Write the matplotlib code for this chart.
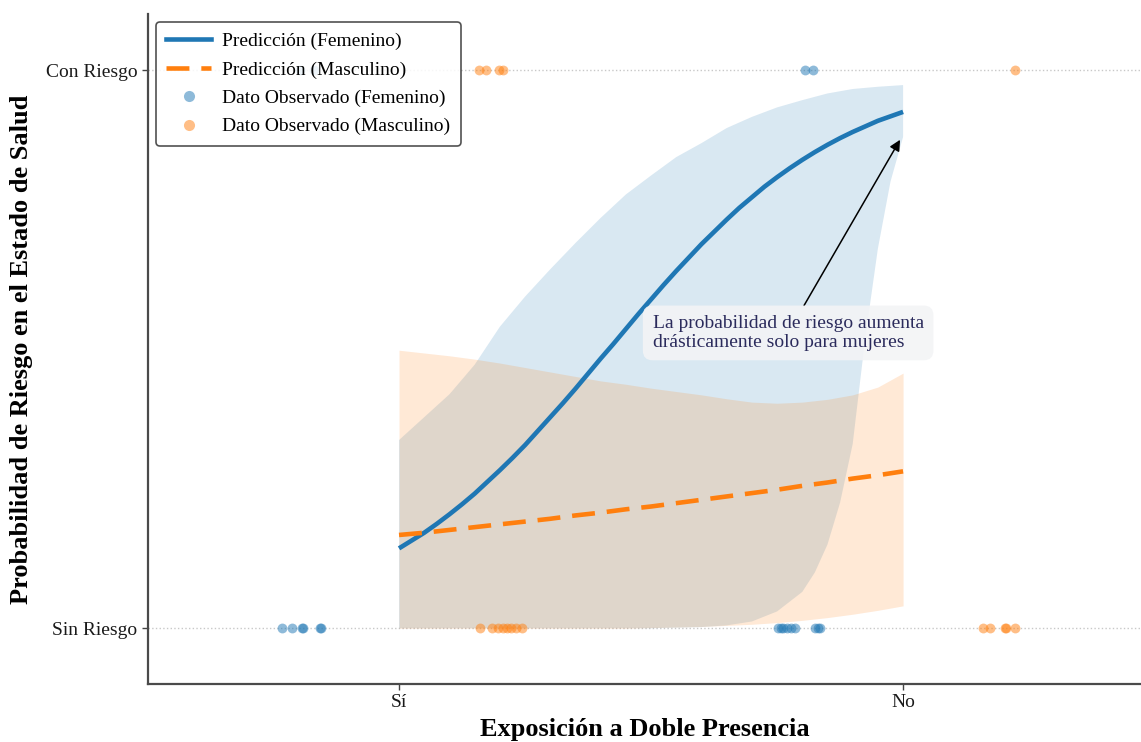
import matplotlib
matplotlib.use("Agg")
import matplotlib.pyplot as plt
from matplotlib.lines import Line2D

plt.rcParams["font.family"] = ["Liberation Serif", "DejaVu Serif"]

# Exposure levels on the x axis (0 = Sí, 1 = No) and outcome levels on y
x_tick_labels = ["Sí", "No"]
y_tick_labels = ["Sin Riesgo", "Con Riesgo"]

# Predicted probability of risk over the exposure range
fem_x = [0.000, 0.025, 0.050, 0.075, 0.100, 0.125, 0.150, 0.175, 0.200, 0.225,
         0.250, 0.275, 0.300, 0.325, 0.350, 0.375, 0.400, 0.425, 0.450, 0.475,
         0.500, 0.525, 0.550, 0.575, 0.600, 0.625, 0.650, 0.675, 0.700, 0.725,
         0.750, 0.775, 0.800, 0.825, 0.850, 0.875, 0.900, 0.925, 0.950, 0.975, 1.000]
pred_fem = [0.143, 0.157, 0.171, 0.187, 0.204, 0.222, 0.241, 0.262, 0.283, 0.305,
            0.328, 0.353, 0.378, 0.403, 0.429, 0.456, 0.483, 0.509, 0.536, 0.563,
            0.589, 0.615, 0.640, 0.664, 0.688, 0.710, 0.732, 0.753, 0.772, 0.791,
            0.808, 0.824, 0.839, 0.853, 0.866, 0.878, 0.889, 0.899, 0.909, 0.917, 0.925]

pred_x = [0.00, 0.05, 0.10, 0.15, 0.20, 0.25, 0.30, 0.35, 0.40, 0.45, 0.50,
          0.55, 0.60, 0.65, 0.70, 0.75, 0.80, 0.85, 0.90, 0.95, 1.00]
pred_male = [0.167, 0.171, 0.176, 0.181, 0.186, 0.191, 0.196, 0.202, 0.207, 0.213, 0.218,
             0.224, 0.230, 0.236, 0.242, 0.248, 0.255, 0.261, 0.268, 0.274, 0.281]

# Confidence bands
fem_upper = [0.337, 0.378, 0.419, 0.472, 0.540, 0.594, 0.643, 0.690, 0.735, 0.777, 0.811,
             0.844, 0.869, 0.896, 0.916, 0.933, 0.946, 0.958, 0.966, 0.970, 0.973]
fem_lower_x = [0.00, 0.10, 0.20, 0.30, 0.40, 0.50, 0.55, 0.60, 0.65, 0.70, 0.75, 0.80,
               0.825, 0.85, 0.875, 0.90, 0.925, 0.95, 0.975, 1.00]
fem_lower = [0.000, 0.000, 0.000, 0.000, 0.000, 0.000, 0.001, 0.002, 0.005, 0.012, 0.030,
             0.065, 0.100, 0.150, 0.225, 0.330, 0.520, 0.680, 0.800, 0.880]
male_upper = [0.498, 0.493, 0.488, 0.482, 0.475, 0.467, 0.459, 0.451, 0.443, 0.437, 0.430,
              0.424, 0.418, 0.411, 0.405, 0.403, 0.405, 0.410, 0.418, 0.432, 0.457]
male_lower = [0.000, 0.000, 0.000, 0.000, 0.000, 0.000, 0.000, 0.000, 0.000, 0.000, 0.001,
              0.002, 0.003, 0.005, 0.007, 0.010, 0.014, 0.019, 0.025, 0.032, 0.040]

# Observed outcomes (jittered x positions, 0 = Sin Riesgo, 1 = Con Riesgo)
fem_obs_x = [-0.232, -0.212, -0.192, -0.190, -0.156, -0.155,
             0.752, 0.757, 0.762, 0.770, 0.778, 0.786, 0.826, 0.832, 0.836,
             -0.196, -0.168, 0.806, 0.821]
fem_obs_y = [0, 0, 0, 0, 0, 0,
             0, 0, 0, 0, 0, 0, 0, 0, 0,
             1, 1, 1, 1]
male_obs_x = [0.161, 0.184, 0.196, 0.206, 0.214, 0.222, 0.232, 0.244,
              1.159, 1.173, 1.202, 1.204, 1.222,
              0.159, 0.173, 0.198, 0.206, 1.222]
male_obs_y = [0, 0, 0, 0, 0, 0, 0, 0,
              0, 0, 0, 0, 0,
              1, 1, 1, 1, 1]

BLUE = "#1f77b4"
ORANGE = "#ff7f0e"

fig = plt.figure(figsize=(11.41, 7.42), dpi=100)
ax = fig.add_axes([148 / 1141, 1 - 684 / 742, 1 - 148 / 1141, (684 - 14.2) / 742])

ax.fill(fem_lower_x + pred_x[::-1], fem_lower + fem_upper[::-1],
        color=BLUE, alpha=0.17, lw=0, zorder=1)
ax.fill_between(pred_x, male_lower, male_upper, color=ORANGE, alpha=0.17, lw=0, zorder=1.1)

ax.plot(fem_x, pred_fem, color=BLUE, lw=3.3, zorder=3, solid_capstyle="butt")
ax.plot(pred_x, pred_male, color=ORANGE, lw=3.3, ls=(0, (5, 2.6)), zorder=3)

ax.scatter(fem_obs_x, fem_obs_y, s=50, color=BLUE, alpha=0.5, lw=0, zorder=4)
ax.scatter(male_obs_x, male_obs_y, s=50, color=ORANGE, alpha=0.5, lw=0, zorder=4)

ax.set_xlim(-0.498, 1.472)
ax.set_ylim(-0.1, 1.1)
ax.set_xticks([0, 1])
ax.set_xticklabels(x_tick_labels)
ax.set_yticks([0, 1])
ax.set_yticklabels(y_tick_labels)
ax.tick_params(axis="both", labelsize=14, length=4, width=1, color="#444444",
               labelcolor="#1a1a1a")

ax.yaxis.grid(True, ls=":", color="#c8c8c8", lw=1, zorder=0)
ax.set_axisbelow(True)
for side in ("top", "right"):
    ax.spines[side].set_visible(False)
for side in ("left", "bottom"):
    ax.spines[side].set_color("#4a4a4a")
    ax.spines[side].set_linewidth(1.6)

ax.set_xlabel("Exposición a Doble Presencia", fontsize=19, fontweight="bold", labelpad=5)
ax.set_ylabel("Probabilidad de Riesgo en el Estado de Salud", fontsize=19,
              fontweight="bold", labelpad=9)

ax.annotate("La probabilidad de riesgo aumenta\ndrásticamente solo para mujeres",
            xy=(0.994, 0.875), xytext=(0.772, 0.529), ha="center", va="center",
            multialignment="left", fontsize=14, color="#2b2b5c", linespacing=1.1,
            bbox=dict(boxstyle="round,pad=0.5", fc="#f3f4f6", ec="none", alpha=0.9),
            arrowprops=dict(arrowstyle="-|>", color="black", lw=1.1,
                            mutation_scale=16, shrinkA=0, shrinkB=0),
            zorder=5)

handles = [
    Line2D([], [], color=BLUE, lw=3.3),
    Line2D([], [], color=ORANGE, lw=3.3, ls=(0, (5, 2.6))),
    Line2D([], [], color=BLUE, marker="o", ls="none", markersize=8, alpha=0.5, mew=0),
    Line2D([], [], color=ORANGE, marker="o", ls="none", markersize=8, alpha=0.5, mew=0),
]
labels = ["Predicción (Femenino)", "Predicción (Masculino)",
          "Dato Observado (Femenino)", "Dato Observado (Masculino)"]
leg = ax.legend(handles, labels, loc="upper left", fontsize=14, frameon=True,
                handlelength=2.3, handletextpad=0.55, labelspacing=0.55,
                borderpad=0.55, borderaxespad=0.4, fancybox=True, framealpha=0.85)
leg.get_frame().set_edgecolor("#333333")
leg.get_frame().set_linewidth(1.2)
leg.set_zorder(6)

fig.savefig("out.png", dpi=100)
